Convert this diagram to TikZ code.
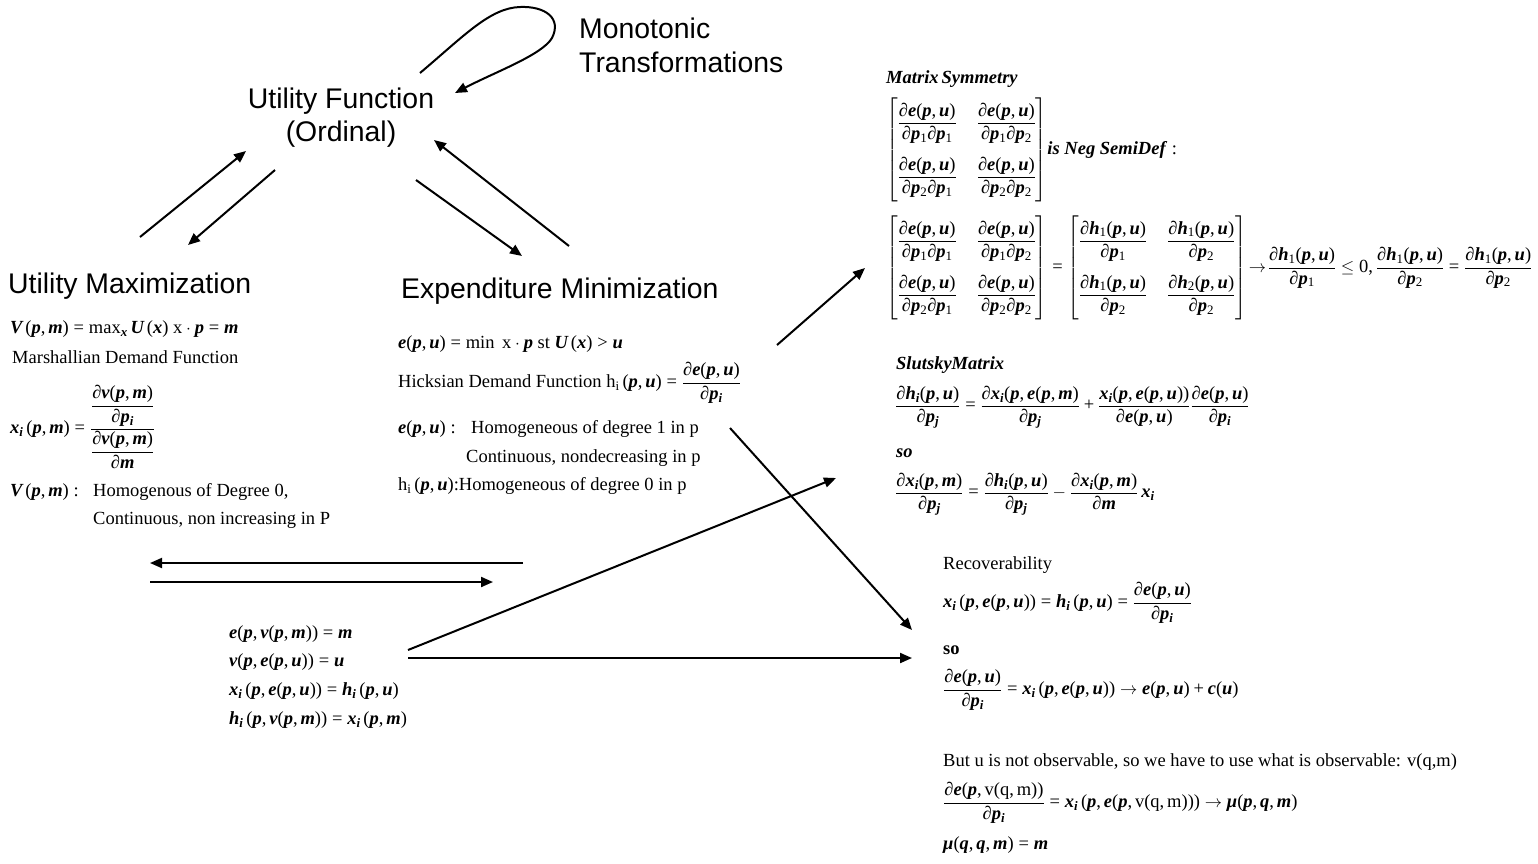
\documentclass[tikz,border=0pt]{standalone}
\usepackage{amsmath}
\usepackage{fontspec}
\setmainfont{Liberation Serif}
\newfontfamily\headfont{Liberation Sans}
\newfontfamily\mathser[NFSSFamily=lsbm]{Liberation Serif}
\DeclareSymbolFont{tletters}{TU}{lsbm}{b}{it}
\DeclareSymbolFont{tupright}{TU}{lsbm}{m}{n}
\AtBeginDocument{%
\count255=`a
\loop \Umathcode\count255=7 \symtletters \count255 \ifnum\count255<`z \advance\count255 by 1 \repeat
\count255=`A
\loop \Umathcode\count255=7 \symtletters \count255 \ifnum\count255<`Z \advance\count255 by 1 \repeat
\count255=`0
\loop \Umathcode\count255=0 \symtupright \count255 \ifnum\count255<`9 \advance\count255 by 1 \repeat
\Umathcode`,=6 \symtupright `,
\Umathcode`.=0 \symtupright `.
\Umathcode`>=3 \symtupright `>
\Umathcode`<=3 \symtupright `<
\Umathcode`(=4 \symtupright `(
\Umathcode`)=5 \symtupright `)
\Umathcode`==3 \symtupright `=
\Umathcode`+=2 \symtupright `+
\Umathcode`:=3 \symtupright `:
\Umathchardef\partial=0 \symtupright "2202
\Umathchardef\mu=7 \symtletters "3BC
}
\usetikzlibrary{arrows.meta}
\tikzset{
  txt/.style={anchor=west, inner sep=0pt, font=\fontsize{18.5}{22}\selectfont},
  head/.style={inner sep=0pt, font=\headfont\fontsize{28.4}{34}\selectfont},
  arr/.style={line width=2pt, -{Triangle[length=12pt,width=10pt]}},
}
\newcommand{\rs}{\rule[-22pt]{0pt}{54pt}}
\newcommand{\matE}{\begin{bmatrix}\rs\dfrac{\partial e(p,u)}{\partial p_1\partial p_1} & \dfrac{\partial e(p,u)}{\partial p_1\partial p_2}\\ \rs\dfrac{\partial e(p,u)}{\partial p_2\partial p_1} & \dfrac{\partial e(p,u)}{\partial p_2\partial p_2}\end{bmatrix}}
\newcommand{\matH}{\begin{bmatrix}\rs\dfrac{\partial h_1(p,u)}{\partial p_1} & \dfrac{\partial h_1(p,u)}{\partial p_2}\\ \rs\dfrac{\partial h_1(p,u)}{\partial p_2} & \dfrac{\partial h_2(p,u)}{\partial p_2}\end{bmatrix}}
\begin{document}
\begin{tikzpicture}[x=1pt,y=-1pt]
\useasboundingbox (0,0) rectangle (1538,863);
% headings
\node[head, anchor=west] (mono1) at (579,28) {Monotonic};
\node[head, anchor=west] (mono2) at (579,62) {Transformations};
\node[head] (uf1) at (341,101) {Utility Function};
\node[head] (uf2) at (341,134) {(Ordinal)};
\node[head, anchor=west] (umax) at (8,286) {Utility Maximization};
\node[head, anchor=west] (emin) at (401,291) {Expenditure Minimization};
% left block
\node[txt] (l1) at (10,329) {$V\,(p,m)=\max\nolimits_{x} U\,(x)\ \mathrm{x}\cdot p=m$};
\node[txt] (l2) at (12,357) {Marshallian Demand Function};
\node[txt] (l3) at (10,427) {$x_i\,(p,m)=\dfrac{\dfrac{\partial v(p,m)}{\partial p_i}}{\dfrac{\partial v(p,m)}{\partial m}}$};
\node[txt] (l4a) at (10,492) {$V\,(p,m):$};
\node[txt] (l4b) at (93,492) {Homogenous of Degree 0,};
\node[txt] (l5) at (93,520) {Continuous, non increasing in P};
% middle block
\node[txt] (m1) at (398,344) {$e(p,u)=\min\ \mathrm{x}\cdot p\ \mathrm{st}\ U\,(x)>u$};
\node[txt] (m2) at (398,383) {Hicksian Demand Function $\mathrm{h_i}\,(p,u)=\dfrac{\partial e(p,u)}{\partial p_i}$};
\node[txt] (m3a) at (398,429) {$e(p,u):$};
\node[txt] (m3b) at (471,429) {Homogeneous of degree 1 in p};
\node[txt] (m4) at (466,458) {Continuous, nondecreasing in p};
\node[txt] (m5) at (398,486) {$\mathrm{h_i}\,(p,u)$:Homogeneous of degree 0 in p};
% matrix symmetry
\node[txt] (ms) at (886,79) {\textbf{\textit{Matrix\hspace{3pt}Symmetry}}};
\node[txt] (mat1) at (886,150) {\setlength{\arraycolsep}{10pt}$\matE$\textbf{\textit{is Neg SemiDef}} :};
\node[txt] (mat2) at (886,268) {\setlength{\arraycolsep}{10pt}$\matE=\matH\!\rightarrow\!\dfrac{\partial h_1(p,u)}{\partial p_1}\le 0,\dfrac{\partial h_1(p,u)}{\partial p_2}=\dfrac{\partial h_1(p,u)}{\partial p_2}$};
% slutsky
\node[txt] (sm) at (896,365) {\textbf{\textit{SlutskyMatrix}}};
\node[txt] (s1) at (895,407) {$\dfrac{\partial h_i(p,u)}{\partial p_j}=\dfrac{\partial x_i(p,e(p,m)}{\partial p_j}+\dfrac{x_i(p,e(p,u))}{\partial e(p,u)}\dfrac{\partial e(p,u)}{\partial p_i}$};
\node[txt] (so1) at (896,453) {\textbf{\textit{so}}};
\node[txt] (s2) at (895,494) {$\dfrac{\partial x_i(p,m)}{\partial p_j}=\dfrac{\partial h_i(p,u)}{\partial p_j}-\dfrac{\partial x_i(p,m)}{\partial m}\,x_i$};
% recoverability
\node[txt] (rc) at (943,565) {Recoverability};
\node[txt] (r1) at (943,603) {$x_i\,(p,e(p,u))=h_i\,(p,u)=\dfrac{\partial e(p,u)}{\partial p_i}$};
\node[txt] (so2) at (943,650) {\textbf{so}};
\node[txt] (r2) at (943,690) {$\dfrac{\partial e(p,u)}{\partial p_i}=x_i\,(p,e(p,u))\rightarrow e(p,u)+c(u)$};
\node[txt] (r3) at (943,762) {But u is not observable, so we have to use what is observable: v(q,m)};
\node[txt] (r4) at (943,803) {$\dfrac{\partial e(p,\mathrm{v(q,m)})}{\partial p_i}=x_i\,(p,e(p,\mathrm{v(q,m)}))\rightarrow \mu(p,q,m)$};
\node[txt] (r5) at (943,845) {$\mu(q,q,m)=m$};
% bottom left identities
\node[txt] (b1) at (229,634) {$e(p,v(p,m))=m$};
\node[txt] (b2) at (229,662) {$v(p,e(p,u))=u$};
\node[txt] (b3) at (229,691) {$x_i\,(p,e(p,u))=h_i\,(p,u)$};
\node[txt] (b4) at (229,720) {$h_i\,(p,v(p,m))=x_i\,(p,m)$};
% connector end points
\coordinate (a1s) at (140,237); \coordinate (a1e) at (246,151);
\coordinate (a2s) at (275,170); \coordinate (a2e) at (188,245);
\coordinate (a3s) at (416,180); \coordinate (a3e) at (522,256);
\coordinate (a4s) at (569,246); \coordinate (a4e) at (434,140);
\coordinate (a5s) at (777,345); \coordinate (a5e) at (865,268);
\coordinate (a6s) at (730,428); \coordinate (a6e) at (912,630);
\coordinate (a7s) at (523,563); \coordinate (a7e) at (150,563);
\coordinate (a8s) at (150,582); \coordinate (a8e) at (493,582);
\coordinate (a9s) at (408,650); \coordinate (a9e) at (836,478);
\coordinate (a10s) at (408,658); \coordinate (a10e) at (912,658);
\coordinate (ls) at (420,73); \coordinate (le) at (455,93);
\draw[arr] (a1s) -- (a1e);
\draw[arr] (a2s) -- (a2e);
\draw[arr] (a3s) -- (a3e);
\draw[arr] (a4s) -- (a4e);
\draw[arr] (a5s) -- (a5e);
\draw[arr] (a6s) -- (a6e);
\draw[arr] (a7s) -- (a7e);
\draw[arr] (a8s) -- (a8e);
\draw[arr] (a9s) -- (a9e);
\draw[arr] (a10s) -- (a10e);
\draw[arr] (ls) .. controls (465,35) and (490,8) .. (520,7) .. controls (545,6) and (562,18) .. (552,38) .. controls (542,55) and (495,72) .. (le);
\end{tikzpicture}
\end{document}
